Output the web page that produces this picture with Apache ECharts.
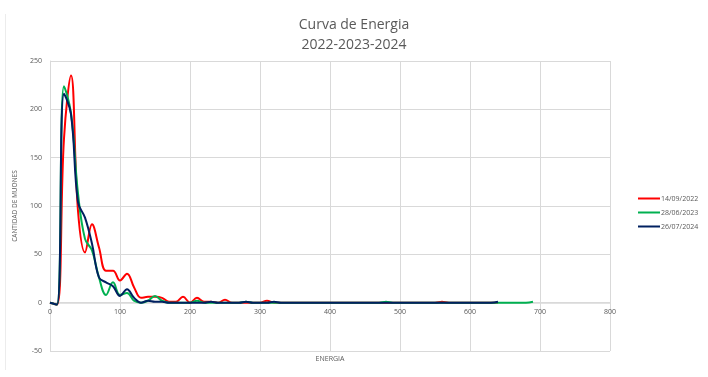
<!DOCTYPE html>
<html><head><meta charset="utf-8">
<script src="https://cdn.jsdelivr.net/npm/echarts@6/dist/echarts.min.js"></script>
<style>html,body{margin:0;padding:0;background:#fff}#c{width:708px;height:377px}</style>
</head><body><div id="c"></div>
<script>
const title = 'Curva de Energia\n2022-2023-2024';
const seriesNames = ['14/09/2022', '28/06/2023', '26/07/2024'];
const xStep = 10;
const red2022 = [
  0,-2,170,235,95,52,81,57,33,33,
  23,30,16,5,6,6,5,1,1,6,
  0,5,1,1,0,3,0,0,0,0,
  0,2,0,0,0,0,0,0,0,0,
  0,0,0,0,0,0,0,0,0,0,
  0,0,0,0,0,0,1,0,0,0,
  0,0,0,0,0
];
const green2023 = [
  0,-2,224,196,113,66,54,26,8,21,
  8,10,2,0,2,7,2,0,0,0,
  0,2,0,0,0,0,0,0,1,0,
  0,0,0,0,0,0,0,0,0,0,
  0,0,0,0,0,0,0,0,1,0,
  0,0,0,0,0,0,0,0,0,0,
  0,0,0,0,0,0,0,0,0,1
];
const blue2024 = [
  0,-2,216,195,104,88,61,26,21,17,
  7,14,5,0,2,1,1,0,0,0,
  0,0,0,1,0,0,0,0,1,0,
  0,0,1,0,0,0,0,0,0,0,
  0,0,0,0,0,0,0,0,0,0,
  0,0,0,0,0,0,0,0,0,0,
  0,0,0,0,1
];
const xTicks = [0,100,200,300,400,500,600,700,800];
const yTicks = [-50,0,50,100,150,200,250];

function pairs(arr){ return arr.map((v,i)=>[i*xStep, v]); }
const colors = ['#ff0000', '#00b050', '#002060'];
const dataSets = [red2022, green2023, blue2024];
const font = 'Open Sans, Liberation Sans, sans-serif';
const gridTop = 61, gridBottom = 26, H = 377;
const yMin = yTicks[0], yMax = yTicks[yTicks.length-1];
const gridH = H - gridTop - gridBottom;
const zeroOffset = -gridH * (0 - yMin) / (yMax - yMin);
const chart = echarts.init(document.getElementById('c'));
chart.setOption({
  animation: false,
  backgroundColor: '#ffffff',
  title: {
    text: title, left: 'center', top: 10,
    textStyle: {fontSize: 14, fontWeight: 'normal', color: '#595959', fontFamily: font, lineHeight: 20}
  },
  graphic: [{type:'line', shape:{x1:5.5,y1:14,x2:5.5,y2:370}, style:{stroke:'#ececec', lineWidth:1}}],
  legend: {
    orient: 'vertical', left: 633, top: 190, itemGap: 7,
    itemWidth: 22, itemHeight: 2, icon: 'rect',
    textStyle: {fontSize: 7, color: '#595959', fontFamily: font, padding:[0,0,0,-4]},
    data: seriesNames
  },
  grid: {left: 50, right: 98, top: gridTop, bottom: gridBottom, containLabel: false, outerBoundsMode: 'none'},
  xAxis: {
    type: 'value', min: xTicks[0], max: xTicks[xTicks.length-1], interval: 100,
    offset: zeroOffset,
    name: 'ENERGIA', nameLocation: 'middle', nameGap: 53,
    nameTextStyle: {fontSize: 7, color: '#595959', fontFamily: font},
    axisLine: {onZero: false, lineStyle: {color: '#d9d9d9', width: 1.5}},
    axisTick: {show: false},
    axisLabel: {fontSize: 7, color: '#595959', fontFamily: font, margin: 6},
    splitLine: {show: true, lineStyle: {color: '#d9d9d9'}}
  },
  yAxis: {
    type: 'value', min: yMin, max: yMax, interval: 50,
    name: 'CANTIDAD DE MUONES', nameLocation: 'middle', nameGap: 17, nameRotate: 90,
    nameTextStyle: {fontSize: 6.5, color: '#595959', fontFamily: font},
    axisLine: {show: true, lineStyle: {color: '#d9d9d9'}},
    axisTick: {show: false},
    axisLabel: {fontSize: 7, color: '#595959', fontFamily: font, margin: 8},
    splitLine: {show: true, lineStyle: {color: '#d9d9d9'}}
  },
  series: dataSets.map((d,i)=>({
    name: seriesNames[i], type: 'line', data: pairs(d), smooth: 0.4,
    showSymbol: false, symbol: 'none',
    lineStyle: {color: colors[i], width: 2}, itemStyle: {color: colors[i]}
  }))
});
</script></body></html>
